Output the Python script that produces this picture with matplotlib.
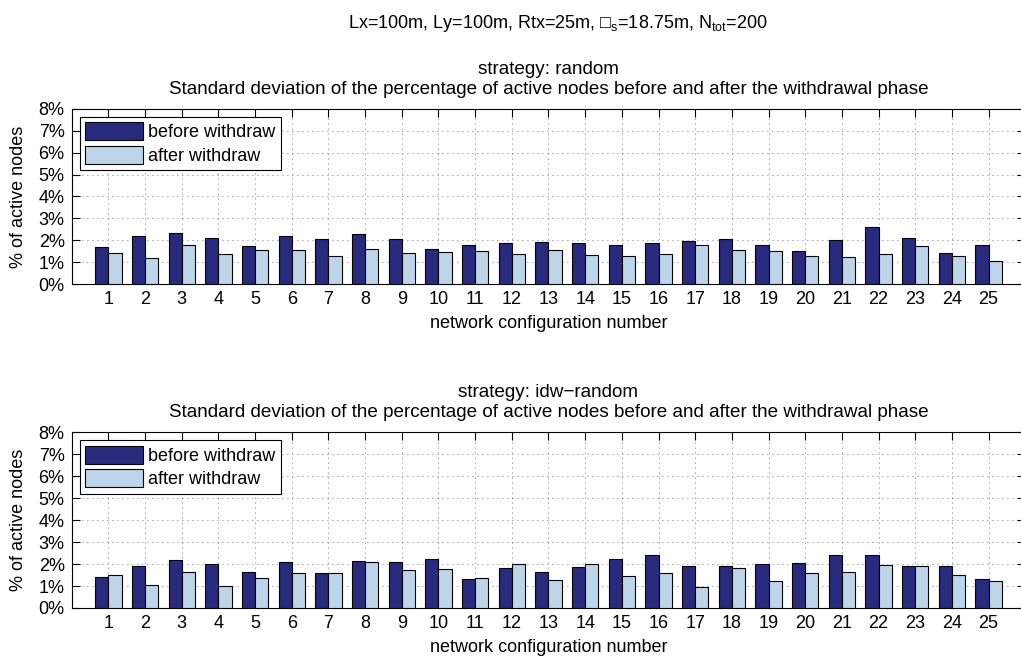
import numpy as np
import matplotlib
matplotlib.use("Agg")
import matplotlib.pyplot as plt
from matplotlib.ticker import FuncFormatter

plt.rcParams["font.family"] = ["Liberation Sans", "DejaVu Sans"]
plt.rcParams["mathtext.fontset"] = "custom"
plt.rcParams["mathtext.rm"] = "Liberation Sans"
plt.rcParams["mathtext.it"] = "Liberation Sans:italic"

# データ
configs = list(range(1, 26))

random_before = [1.68, 2.18, 2.32, 2.12, 1.73, 2.20, 2.06, 2.30, 2.05, 1.61,
                 1.80, 1.89, 1.91, 1.88, 1.80, 1.86, 1.95, 2.05, 1.77, 1.50,
                 2.00, 2.61, 2.11, 1.41, 1.80]
random_after = [1.44, 1.17, 1.80, 1.38, 1.55, 1.56, 1.26, 1.58, 1.44, 1.47,
                1.50, 1.35, 1.55, 1.32, 1.26, 1.39, 1.76, 1.55, 1.50, 1.27,
                1.24, 1.39, 1.74, 1.29, 1.03]

idw_before = [1.40, 1.93, 2.17, 2.00, 1.66, 2.08, 1.60, 2.16, 2.11, 2.25,
              1.34, 1.84, 1.64, 1.86, 2.25, 2.43, 1.89, 1.89, 1.98, 2.05,
              2.43, 2.43, 1.93, 1.93, 1.34]
idw_after = [1.49, 1.06, 1.64, 1.01, 1.37, 1.57, 1.60, 2.10, 1.72, 1.76,
             1.37, 2.00, 1.28, 2.02, 1.46, 1.60, 0.97, 1.83, 1.24, 1.60,
             1.66, 1.95, 1.90, 1.48, 1.21]

panels = [
    ("strategy: random", random_before, random_after),
    ("strategy: idw\u2212random", idw_before, idw_after),
]

dark = "#282a7e"
light = "#bdd5e8"
fs = 13

fig = plt.figure(figsize=(10.21, 6.61), dpi=100)
fig.text(0.546, 0.965,
         "Lx=100m, Ly=100m, Rtx=25m, \u25a1$_\\mathrm{s}$=18.75m, N$_\\mathrm{tot}$=200",
         ha="center", va="center", fontsize=fs)

# 軸の位置
rects = [[0.0702, 0.5703, 0.934, 0.265], [0.0702, 0.0802, 0.934, 0.266]]

x = np.array(configs)
w = 0.36
for rect, (title, before, after) in zip(rects, panels):
    ax = fig.add_axes(rect)
    ax.bar(x - w / 2, before, width=w, color=dark, edgecolor="black", linewidth=0.8,
           label="before withdraw", zorder=3)
    ax.bar(x + w / 2, after, width=w, color=light, edgecolor="black", linewidth=0.8,
           label="after withdraw", zorder=3)
    ax.set_xlim(0, 26)
    ax.set_ylim(0, 8)
    ax.set_xticks(configs)
    ax.set_yticks(range(0, 9))
    ax.yaxis.set_major_formatter(FuncFormatter(lambda v, p: f"{int(v)}%"))
    ax.tick_params(direction="in", top=True, right=True, labelsize=fs, length=6, pad=5)
    ax.grid(True, linestyle=(0, (1, 5)), color="#444444", linewidth=0.6, zorder=0)
    ax.set_title(title + "\nStandard deviation of the percentage of active nodes before and after the withdrawal phase",
                 fontsize=13.6, pad=11, linespacing=1.2)
    ax.set_xlabel("network configuration number", fontsize=fs, labelpad=5)
    ax.set_ylabel("% of active nodes", fontsize=fs, labelpad=8)
    leg = ax.legend(loc="upper left", fontsize=fs, fancybox=False, framealpha=1,
                    edgecolor="black", handlelength=3.2, handleheight=1.15,
                    borderaxespad=0.45, labelspacing=0.25, handletextpad=0.3,
                    borderpad=0.3)
    leg.get_frame().set_linewidth(0.8)
    leg.set_zorder(5)

fig.savefig("out.png", dpi=100)
